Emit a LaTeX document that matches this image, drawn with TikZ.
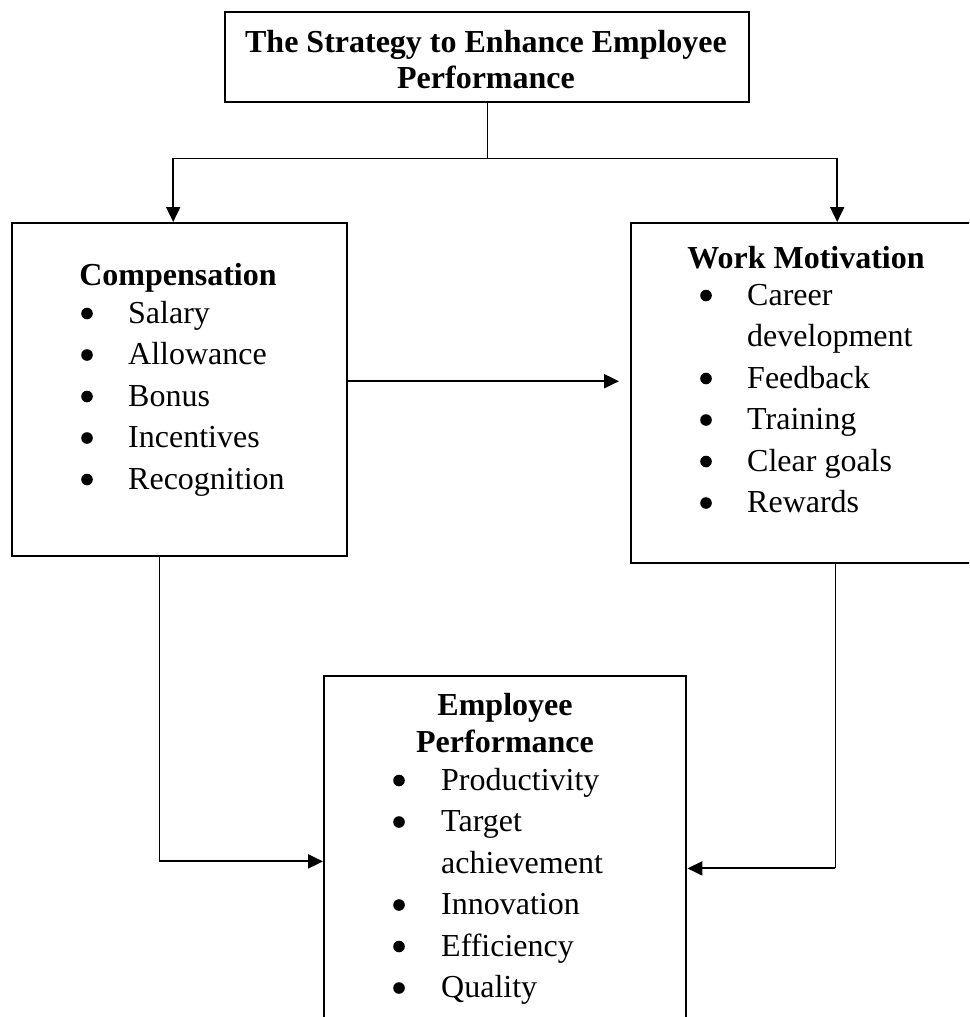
\documentclass[tikz,border=0pt]{standalone}
\usepackage{fontspec}
\setmainfont{Liberation Serif}
\usetikzlibrary{arrows.meta,positioning}

\tikzset{
  box/.style={draw, line width=2.4pt, inner sep=0pt, anchor=north west},
  head/.style={font=\bfseries\fontsize{32}{36}\selectfont, inner sep=0pt, anchor=base},
  items/.style={font=\fontsize{32}{41.5}\selectfont, inner sep=0pt, anchor=base west},
  link/.style={line width=2pt, -{Triangle[length=15pt,width=14pt]}},
  trunk/.style={line width=1.3pt}
}
\newcommand{\dotmark}{\tikz[baseline={(0pt,-9.5pt)}]\fill (5.8pt,0pt) circle[radius=5.8pt];}

\begin{document}
\begin{tikzpicture}[x=1pt, y=-1pt]
  \useasboundingbox (0,0) rectangle (969,1017);
  \clip (0,0) rectangle (969,1017);

  % boxes
  \node[box, minimum width=524pt, minimum height=90pt]  (strat) at (224,11)  {};
  \node[box, minimum width=335pt, minimum height=333pt] (comp)  at (11,222)  {};
  \node[box, minimum width=350pt, minimum height=340pt] (motiv) at (630,222) {};
  \node[box, minimum width=362pt, minimum height=400pt] (perf)  at (323,675) {};

  % texts
  \node[head] (strat-head) at (486,52) {\begin{tabular}[t]{@{}c@{}}The Strategy to Enhance Employee\\Performance\end{tabular}};

  \node[head] (comp-head) at (178,285) {Compensation};
  \node[items] (comp-items) at (81,323) {\begin{tabular}[t]{@{}p{47pt}@{}l@{}}
    \dotmark & Salary\\
    \dotmark & Allowance\\
    \dotmark & Bonus\\
    \dotmark & Incentives\\
    \dotmark & Recognition
  \end{tabular}};

  \node[head] (motiv-head) at (806,268) {Work Motivation};
  \node[items] (motiv-items) at (700,305) {\begin{tabular}[t]{@{}p{47pt}@{}l@{}}
    \dotmark & Career\\
             & development\\
    \dotmark & Feedback\\
    \dotmark & Training\\
    \dotmark & Clear goals\\
    \dotmark & Rewards
  \end{tabular}};

  \node[head] (perf-head) at (505,715) {\fontsize{32}{37}\selectfont\begin{tabular}[t]{@{}c@{}}Employee\\Performance\end{tabular}};
  \node[items] (perf-items) at (393,790) {\begin{tabular}[t]{@{}p{48pt}@{}l@{}}
    \dotmark & Productivity\\
    \dotmark & Target\\
             & achievement\\
    \dotmark & Innovation\\
    \dotmark & Efficiency\\
    \dotmark & Quality
  \end{tabular}};

  % connectors
  \coordinate (comp-drop)  at ([xshift=-6.5pt]comp.north);
  \coordinate (motiv-drop) at ([xshift=31pt]motiv.north);
  \draw[trunk] (strat.south) -- ++(0,55) coordinate (fork);
  \draw[trunk] (comp-drop |- fork) -- (motiv-drop |- fork);
  \draw[link] (comp-drop |- fork) -- (comp-drop);
  \draw[link] (motiv-drop |- fork) -- (motiv-drop);

  \draw[link] ([yshift=8.5pt]comp.east) -- ([xshift=-11pt,yshift=8.5pt]comp.east -| motiv.west);

  \draw[trunk] ([xshift=-20.5pt]comp.south) -- ++(0,304) coordinate (comp-turn);
  \draw[link] (comp-turn) -- (comp-turn -| perf.west);
  \draw[trunk] ([xshift=29pt]motiv.south) -- ++(0,304) coordinate (motiv-turn);
  \draw[link] (motiv-turn) -- (motiv-turn -| perf.east);
\end{tikzpicture}
\end{document}
